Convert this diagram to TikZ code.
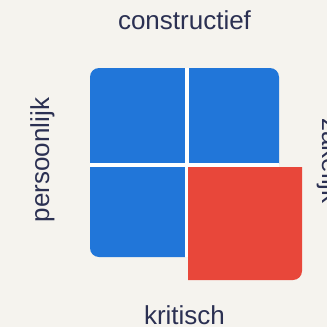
\documentclass[tikz,border=0pt]{standalone}
\usepackage{fontspec}
\setmainfont{Liberation Sans}
\usepackage{xcolor}

\definecolor{achtergrond}{HTML}{F5F3EE}
\definecolor{vlakblauw}{HTML}{2176D9}
\definecolor{vlakrood}{HTML}{E8473A}
\definecolor{tekstblauw}{HTML}{2B3052}

\tikzset{
    aslabel/.style={text=tekstblauw, inner sep=0pt, font=\fontsize{26}{31}\selectfont},
    blauwvlak/.style={fill=vlakblauw},
    roodvlak/.style={fill=vlakrood}
}

\begin{document}
\begin{tikzpicture}[x=1pt, y=-1pt]
    \fill[achtergrond] (0,0) rectangle (327,327);
    \useasboundingbox (0,0) rectangle (327,327);

    % blauwe vlakken, elk met een ronde buitenhoek
    \begin{scope}
        \clip (90,68) rectangle (185,163);
        \fill[blauwvlak, rounded corners=9pt] (90,68) rectangle (205,183);
    \end{scope}
    \begin{scope}
        \clip (189,68) rectangle (279,163);
        \fill[blauwvlak, rounded corners=9pt] (169,68) rectangle (279,183);
    \end{scope}
    \begin{scope}
        \clip (90,167) rectangle (185,257);
        \fill[blauwvlak, rounded corners=9pt] (90,147) rectangle (205,257);
    \end{scope}

    % witte voegen
    \fill[white] (90,163) rectangle (279,167);
    \fill[white] (185,68) rectangle (189,257);

    % rood vlak
    \begin{scope}
        \clip (188,167) rectangle (302,280);
        \fill[roodvlak, rounded corners=9pt] (168,147) rectangle (302,280);
    \end{scope}

    % aslabels
    \node[aslabel, anchor=base] (constructief) at (184.5,29) {constructief};
    \node[aslabel, anchor=base] (kritisch) at (184.5,324) {kritisch};
    \node[aslabel, anchor=base, rotate=90] (persoonlijk) at (49,160) {persoonlijk};
    \node[aslabel, anchor=base, rotate=-90] (zakelijk) at (322,161) {zakelijk};
\end{tikzpicture}
\end{document}
